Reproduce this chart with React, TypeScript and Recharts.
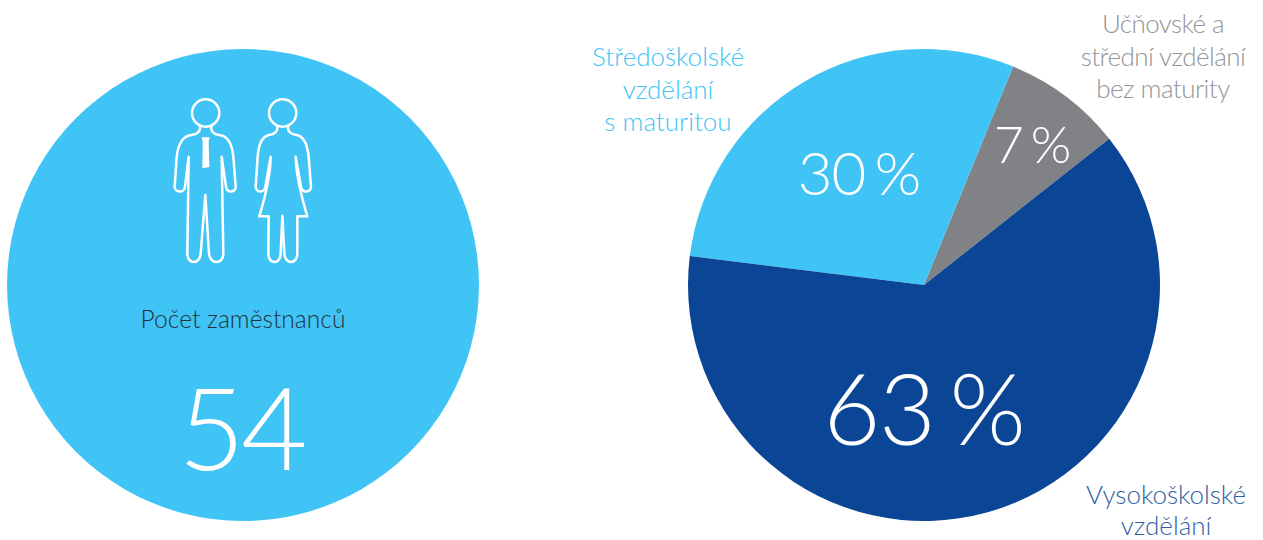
import React from "react";
import { PieChart, Pie, Cell } from "recharts";

const headcountLabel = "Počet zaměstnanců";
const headcountValue = "54";
const headcountSlices = [{ name: "Počet zaměstnanců", value: 54 }];

const educationNames = ["Učňovské a střední vzdělání bez maturity", "Středoškolské vzdělání s maturitou", "Vysokoškolské vzdělání"];
const educationShares = [8.2, 29.2, 62.6];
const educationLabels = ["7 %", "30 %", "63 %"];
const educationColors = ["#808285", "#40c4f5", "#0b4595"];
const educationSlices = educationNames.map((name, i) => ({ name, value: educationShares[i] }));

const FONT = "Lato, 'Open Sans', sans-serif";

const captions = [
  { lines: ["Učňovské a", "střední vzdělání", "bez maturity"], x: 1163, y: 33, gap: 32.5, color: "#939598", spacing: -0.55 },
  { lines: ["Středoškolské", "vzdělání", "s maturitou"], x: 668, y: 66, gap: 32.5, color: "#40c4f5", spacing: 0 },
  { lines: ["Vysokoškolské", "vzdělání"], x: 1166, y: 504, gap: 30.5, color: "#2f5fa5", spacing: 0 },
];
const percentPlacement = [
  { x: 1032, y: 163, size: 52, spacing: -1 },
  { x: 859, y: 195, size: 60, spacing: -1 },
  { x: 924, y: 445, size: 98, spacing: -1.5 },
];

const manPath =
  "M150 125 C152 140 140 148 125 150 C100 152 85 175 80 215 L74 305 C74 322 103 326 105 305 L116 215 L112 505 C112 540 150 540 152 505 L166 330 L177 505 C180 540 220 540 220 505 L215 215 L228 305 C232 326 258 322 257 305 L250 215 C246 175 232 152 207 150 C192 148 182 140 184 125";
const tiePath = "M155 157 L179 157 L176 170 L178 246 L157 250 L158 170 Z";
const womanPath =
  "M382 125 C384 140 372 148 357 150 C338 154 326 175 323 215 L317 305 C317 322 344 326 346 305 L362 215 C362 260 350 320 328 394 L356 394 L355 505 C355 540 392 540 392 505 L397 392 L403 505 C405 540 442 540 442 505 L442 394 L472 394 C450 320 438 260 437 215 L453 305 C457 326 484 322 483 305 L476 215 C472 175 460 154 440 150 C425 148 412 140 414 125";

export default function App() {
  return (
    <div style={{ position: "absolute", left: 0, top: 0, width: 1263, height: 540, overflow: "hidden" }}>
      <PieChart width={1263} height={540} margin={{ top: 0, right: 0, bottom: 0, left: 0 }}>
        <Pie
          data={headcountSlices}
          dataKey="value"
          cx={243}
          cy={285}
          outerRadius={236}
          innerRadius={0}
          startAngle={90}
          endAngle={450}
          stroke="none"
          fill="#40c4f5"
          isAnimationActive={false}
        />
        <Pie
          data={educationSlices}
          dataKey="value"
          cx={924}
          cy={285}
          outerRadius={236}
          innerRadius={0}
          startAngle={38.3}
          endAngle={398.3}
          stroke="none"
          isAnimationActive={false}
        >
          {educationSlices.map((s, i) => (
            <Cell key={s.name} fill={educationColors[i]} />
          ))}
        </Pie>
      </PieChart>
      <svg width={1263} height={540} style={{ position: "absolute", left: 0, top: 0, pointerEvents: "none" }}>
        <g transform="translate(150 85) scale(0.3333)" fill="none" stroke="#fff" strokeWidth={7.5} strokeLinejoin="round" strokeLinecap="round">
          <circle cx={167} cy={84} r={41} />
          <path d={manPath} />
          <path d={tiePath} fill="#fff" stroke="none" />
          <circle cx={398} cy={84} r={41} />
          <path d={womanPath} />
        </g>
        <g fontFamily={FONT} fontWeight={300} textAnchor="middle">
          <text x={243} y={328} fontSize={24.6} fill="#23323e">{headcountLabel}</text>
          <text x={241} y={470} fontSize={115} letterSpacing={-4} fill="#fff">{headcountValue}</text>
          {educationLabels.map((t, i) => (
            <text key={t} x={percentPlacement[i].x} y={percentPlacement[i].y} fontSize={percentPlacement[i].size} letterSpacing={percentPlacement[i].spacing} wordSpacing={percentPlacement[i].size * -0.1} fill="#fff">{t}</text>
          ))}
          {captions.map((c) =>
            c.lines.map((line, j) => (
              <text key={line + c.x} x={c.x} y={c.y + j * c.gap} fontSize={26} letterSpacing={c.spacing} fill={c.color}>{line}</text>
            ))
          )}
        </g>
      </svg>
    </div>
  );
}
